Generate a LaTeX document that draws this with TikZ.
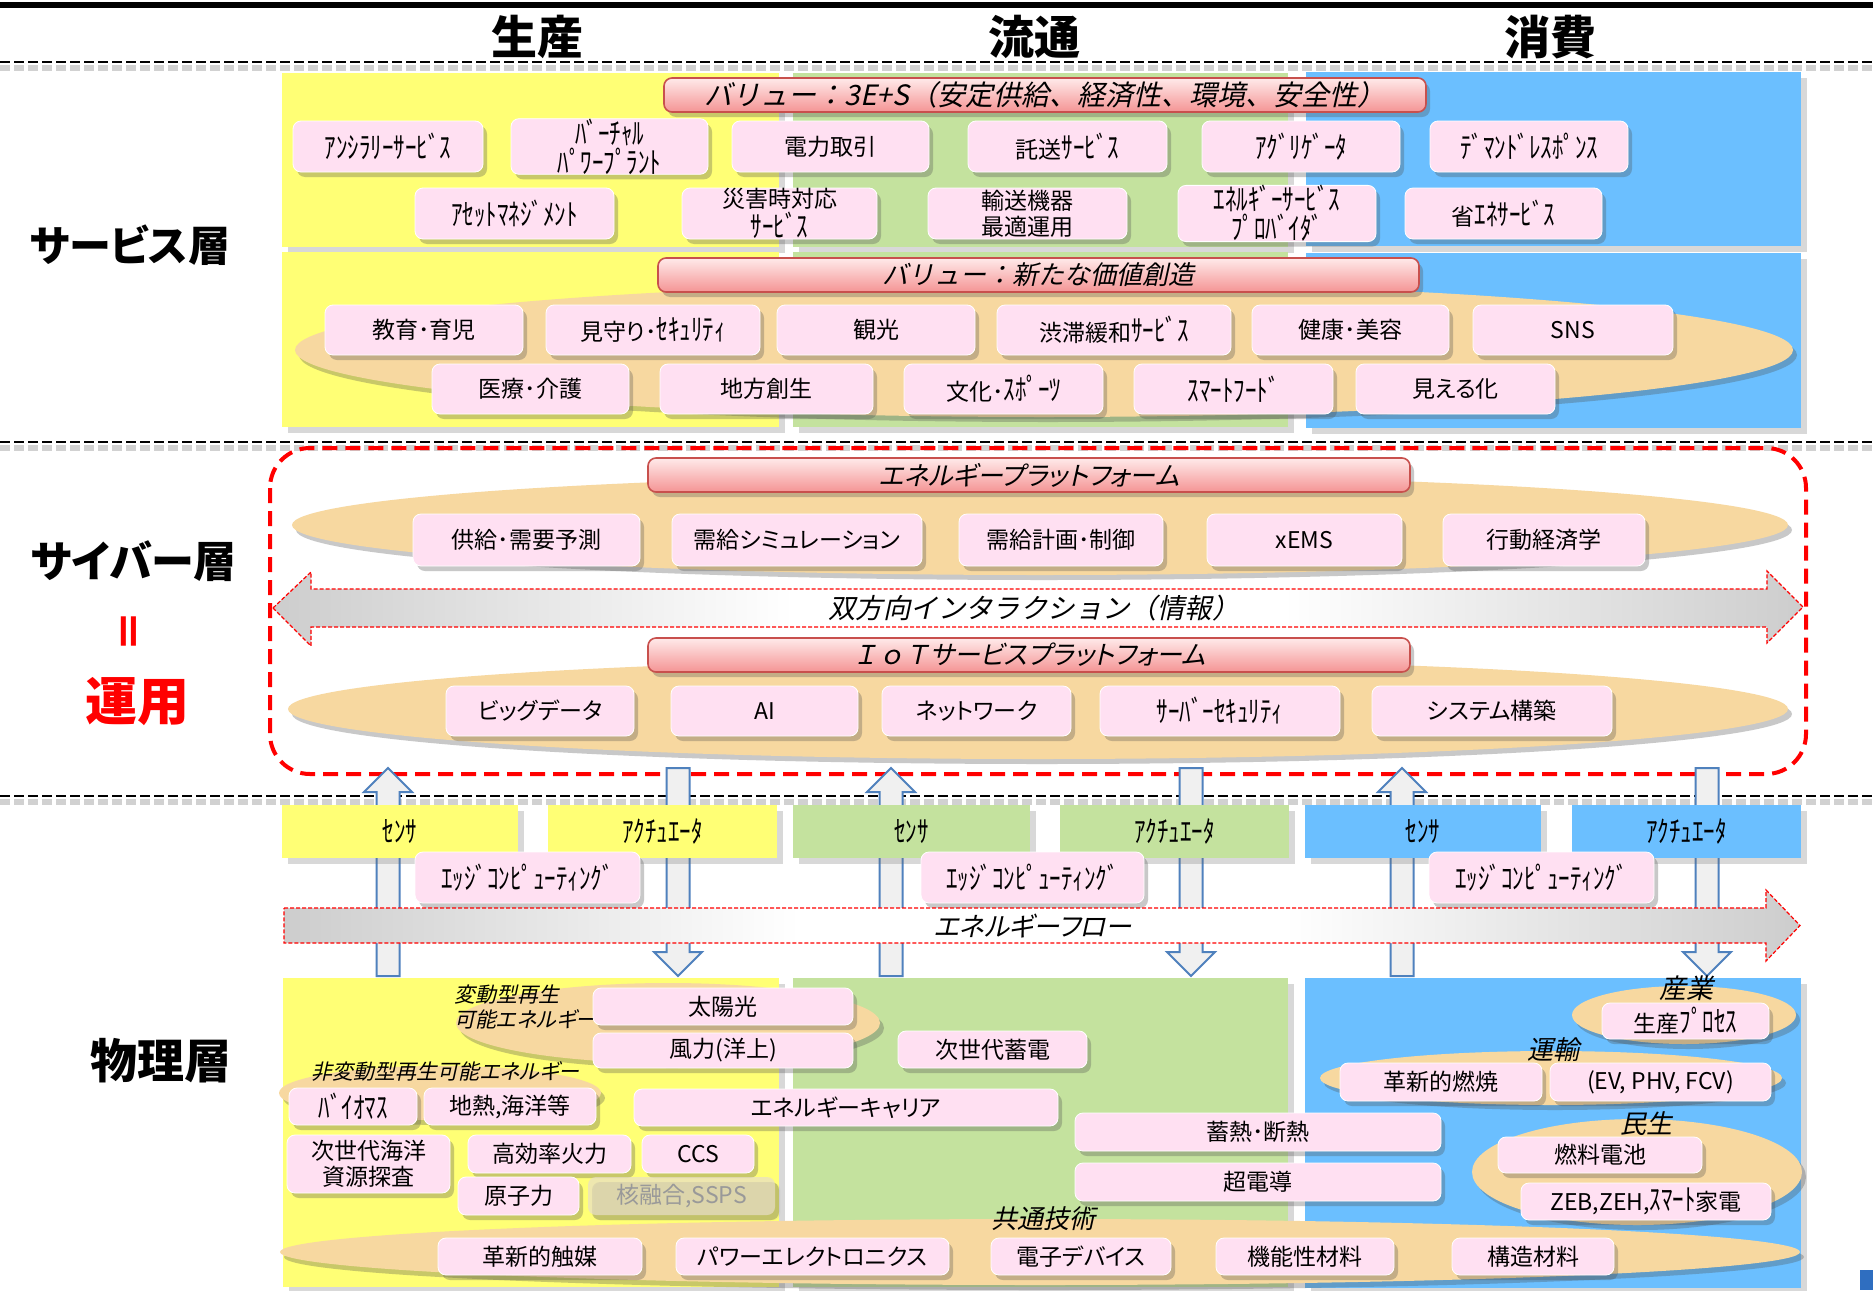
\documentclass[tikz,border=0pt]{standalone}
\usepackage{fontspec}
\usepackage{graphicx}
\setmainfont[RawFeature=+palt]{Noto Sans CJK JP}
\newfontfamily\jpit[FakeSlant=0.22,RawFeature=+palt]{Noto Sans CJK JP}
\newfontfamily\jpitw[FakeSlant=0.22]{Noto Sans CJK JP}
\usetikzlibrary{shadows}
\definecolor{ybg}{RGB}{255,255,117}
\definecolor{gbg}{RGB}{196,226,158}
\definecolor{bbg}{RGB}{107,191,255}
\definecolor{tanc}{RGB}{247,216,160}
\definecolor{pk}{RGB}{255,224,242}
\definecolor{fadebox}{RGB}{232,222,200}
\definecolor{barTop}{RGB}{255,234,234}
\definecolor{barBot}{RGB}{244,148,148}
\definecolor{barLine}{RGB}{200,80,77}
\definecolor{arrowgray}{RGB}{205,205,205}
\definecolor{arrowblue}{RGB}{79,129,189}
\definecolor{arrowfill}{RGB}{240,240,240}
\definecolor{cornerblue}{RGB}{47,110,192}
\pgfdeclarehorizontalshading{flowshade}{100bp}{color(0bp)=(arrowgray); color(25bp)=(arrowgray); color(42bp)=(white); color(58bp)=(white); color(75bp)=(arrowgray); color(100bp)=(arrowgray)}
\newcommand\nb[7][]{\node[#1,minimum width={(#5-#3)*0.5pt},minimum height={(#6-#4)*0.5pt}] (#2) at ({(#3+#5)/2},{(#4+#6)/2}) {#7};}
\newcommand\hk[1]{\scalebox{1}[1.3]{#1}}
\newcommand\uparr[1]{\draw[varrow] (#1-11.5,976) -- (#1-11.5,792) -- (#1-24,792) -- (#1,768) -- (#1+24,792) -- (#1+11.5,792) -- (#1+11.5,976) -- cycle;}
\newcommand\downarr[1]{\draw[varrow] (#1-11.5,768) -- (#1-11.5,952) -- (#1-24,952) -- (#1,976) -- (#1+24,952) -- (#1+11.5,952) -- (#1+11.5,768) -- cycle;}
\begin{document}
\begin{tikzpicture}[x=0.5pt,y=-0.5pt,
  sh/.style={drop shadow={shadow xshift=2pt,shadow yshift=-2.5pt,opacity=0.3,fill=black!70}},
  bgsh/.style={drop shadow={shadow xshift=3pt,shadow yshift=-3pt,opacity=0.25,fill=black!60}},
  pbox/.style={rectangle, rounded corners=4pt, fill=pk, draw=white, line width=0.4pt, inner sep=0pt, align=center, font=\fontsize{11.5}{13}\selectfont, sh},
  vbar/.style={rectangle, rounded corners=4pt, draw=barLine, line width=0.8pt, top color=barTop, bottom color=barBot, inner sep=0pt, font=\jpit\fontsize{13}{14}\selectfont, sh},
  sbox/.style={rectangle, inner sep=0pt, font=\fontsize{11.5}{12.5}\selectfont, bgsh},
  varrow/.style={fill=arrowfill, draw=arrowblue, line width=1pt, line join=miter},
  flow/.style={shading=flowshade, draw=red, line width=0.6pt, dash pattern=on 2pt off 1pt},
  lab/.style={font=\jpit\fontsize{13}{14}\selectfont, inner sep=0pt},
  layer/.style={font=\fontsize{21}{24}\selectfont\bfseries, inner sep=0pt},
  head/.style={font=\fontsize{23}{26}\selectfont\bfseries, inner sep=0pt},
  sect/.style={black, line width=1.3pt, dash pattern=on 5pt off 2pt},
  sectsh/.style={black!18, line width=3pt, dash pattern=on 5pt off 2pt}
]
\useasboundingbox (0,0) rectangle (1873,1290);
\fill[white] (0,0) rectangle (1873,1290);

% top line, headers, section lines
\fill[black] (0,2) rectangle (1873,8);
\node[head] (h1) at (537,37) {生産};
\node[head] (h2) at (1034,37) {流通};
\node[head] (h3) at (1550,37) {消費};
\foreach \yy in {62,442,796} {
  \draw[sectsh] (0,\yy+6) -- (1873,\yy+6);
  \draw[sect] (0,\yy) -- (1873,\yy);
}

% ===== service layer =====
\path[fill=ybg, bgsh] (282,73) rectangle (779,247);
\path[fill=gbg, bgsh] (793,73) rectangle (1288,247);
\path[fill=bbg, bgsh] (1306,72) rectangle (1801,246);
\path[fill=ybg, bgsh] (282,252) rectangle (779,427);
\path[fill=gbg, bgsh] (793,252) rectangle (1288,427);
\path[fill=bbg, bgsh] (1306,253) rectangle (1801,428);
\path[fill=tanc, sh] (1044,350) ellipse [x radius=749, y radius=67];

\nb[vbar, font=\jpitw\fontsize{14}{15}\selectfont]{v1}{664}{78}{1426}{112}{バリュー：3E+S（安定供給、経済性、環境、安全性）}
\nb[pbox]{s1}{293}{121}{483}{172}{\hk{ｱﾝｼﾗﾘｰｻｰﾋﾞｽ}}
\nb[pbox]{s2}{511}{121}{708}{172}{\hk{ﾊﾞｰﾁｬﾙ}\\\hk{ﾊﾟﾜｰﾌﾟﾗﾝﾄ}}
\nb[pbox]{s3}{732}{121}{929}{172}{電力取引}
\nb[pbox]{s4}{968}{121}{1167}{172}{託送\hk{ｻｰﾋﾞｽ}}
\nb[pbox]{s5}{1202}{121}{1400}{172}{\hk{ｱｸﾞﾘｹﾞｰﾀ}}
\nb[pbox]{s6}{1430}{121}{1628}{172}{\hk{ﾃﾞﾏﾝﾄﾞﾚｽﾎﾟﾝｽ}}
\nb[pbox]{s7}{415}{188}{614}{239}{\hk{ｱｾｯﾄﾏﾈｼﾞﾒﾝﾄ}}
\nb[pbox]{s8}{682}{188}{877}{239}{災害時対応\\\hk{ｻｰﾋﾞｽ}}
\nb[pbox]{s9}{928}{188}{1127}{239}{輸送機器\\最適運用}
\nb[pbox]{s10}{1178}{188}{1376}{239}{\hk{ｴﾈﾙｷﾞｰｻｰﾋﾞｽ}\\\hk{ﾌﾟﾛﾊﾞｲﾀﾞ}}
\nb[pbox]{s11}{1405}{188}{1602}{239}{省\hk{ｴﾈｻｰﾋﾞｽ}}

\nb[vbar, font=\jpitw\fontsize{13}{14}\selectfont]{v2}{658}{258}{1419}{292}{バリュー：新たな価値創造}
\nb[pbox]{t1}{325}{305}{523}{355}{教育･育児}
\nb[pbox]{t2}{546}{305}{760}{355}{見守り･\hk{ｾｷｭﾘﾃｨ}}
\nb[pbox]{t3}{777}{305}{975}{355}{観光}
\nb[pbox]{t4}{997}{305}{1231}{355}{渋滞緩和\hk{ｻｰﾋﾞｽ}}
\nb[pbox]{t5}{1252}{305}{1449}{355}{健康･美容}
\nb[pbox]{t6}{1473}{305}{1673}{355}{SNS}
\nb[pbox]{t7}{432}{364}{629}{414}{医療･介護}
\nb[pbox]{t8}{660}{364}{873}{414}{地方創生}
\nb[pbox]{t9}{904}{364}{1103}{414}{文化･\hk{ｽﾎﾟｰﾂ}}
\nb[pbox]{t10}{1134}{364}{1333}{414}{\hk{ｽﾏｰﾄﾌｰﾄﾞ}}
\nb[pbox]{t11}{1356}{364}{1555}{414}{見える化}

% ===== cyber layer =====
\path[fill=tanc, sh] (1040,525) ellipse [x radius=748, y radius=50];
\path[fill=tanc, sh] (1038,709) ellipse [x radius=750, y radius=50];
\nb[vbar]{ep}{648}{458}{1410}{492}{エネルギープラットフォーム}
\nb[pbox]{c1}{413}{514}{640}{566}{供給･需要予測}
\nb[pbox]{c2}{672}{514}{922}{566}{需給シミュレーション}
\nb[pbox]{c3}{959}{514}{1163}{566}{需給計画･制御}
\nb[pbox]{c4}{1207}{514}{1402}{566}{xEMS}
\nb[pbox]{c5}{1443}{514}{1645}{566}{行動経済学}

\draw[flow] (273,608) -- (311,572) -- (311,589) -- (1767,589) -- (1767,571) -- (1803,607) -- (1767,643) -- (1767,627) -- (311,627) -- (311,646) -- cycle;
\node[lab, font=\jpitw\fontsize{13.7}{15}\selectfont] (bi) at (1034,608) {双方向インタラクション（情報）};

\nb[vbar]{iot}{648}{638}{1410}{672}{{\jpitw ＩｏＴ}サービスプラットフォーム}
\nb[pbox]{d1}{446}{686}{634}{736}{ビッグデータ}
\nb[pbox]{d2}{671}{686}{858}{736}{AI}
\nb[pbox]{d3}{882}{686}{1071}{736}{ネットワーク}
\nb[pbox]{d4}{1100}{686}{1340}{736}{\hk{ｻｰﾊﾞｰｾｷｭﾘﾃｨ}}
\nb[pbox]{d5}{1372}{686}{1612}{736}{システム構築}

\draw[red, line width=2pt, dash pattern=on 7.5pt off 4pt, rounded corners=20pt] (270,448) rectangle (1806,774);

% ===== vertical arrows =====
\uparr{388}
\uparr{891}
\uparr{1402}
\downarr{678}
\downarr{1191}
\downarr{1707}

% sensors / actuators
\nb[sbox, fill=ybg]{ys}{282}{805}{518}{858}{\hk{ｾﾝｻ}}
\nb[sbox, fill=ybg]{ya}{548}{805}{777}{858}{\hk{ｱｸﾁｭｴｰﾀ}}
\nb[sbox, fill=gbg]{gs}{793}{805}{1030}{858}{\hk{ｾﾝｻ}}
\nb[sbox, fill=gbg]{ga}{1060}{805}{1289}{858}{\hk{ｱｸﾁｭｴｰﾀ}}
\nb[sbox, fill=bbg]{bs}{1305}{805}{1541}{858}{\hk{ｾﾝｻ}}
\nb[sbox, fill=bbg]{ba}{1572}{805}{1801}{858}{\hk{ｱｸﾁｭｴｰﾀ}}
\nb[pbox]{e1}{415}{852}{640}{903}{\hk{ｴｯｼﾞｺﾝﾋﾟｭｰﾃｨﾝｸﾞ}}
\nb[pbox]{e2}{921}{852}{1144}{903}{\hk{ｴｯｼﾞｺﾝﾋﾟｭｰﾃｨﾝｸﾞ}}
\nb[pbox]{e3}{1429}{852}{1654}{903}{\hk{ｴｯｼﾞｺﾝﾋﾟｭｰﾃｨﾝｸﾞ}}

% energy flow
\draw[flow] (284,908) -- (1766,908) -- (1766,890) -- (1800,925.5) -- (1766,961) -- (1766,943) -- (284,943) -- cycle;
\node[lab, font=\jpit\fontsize{13.2}{15}\selectfont] (ef) at (1033,926) {エネルギーフロー};

% ===== physical layer =====
\path[fill=ybg, bgsh] (283,978) rectangle (779,1287);
\path[fill=gbg, bgsh] (793,978) rectangle (1288,1287);
\path[fill=bbg, bgsh] (1305,978) rectangle (1801,1288);

\path[fill=tanc, sh] (668,1023) ellipse [x radius=212, y radius=40];
\path[fill=tanc, sh] (440,1093) ellipse [x radius=161, y radius=27];
\path[fill=tanc, sh] (1040,1252) ellipse [x radius=760, y radius=33];
\path[fill=tanc, sh] (1684,1015) ellipse [x radius=112, y radius=29];
\path[fill=tanc, sh] (1551,1078) ellipse [x radius=231, y radius=27];
\path[fill=tanc, sh] (1637,1172) ellipse [x radius=165, y radius=53];

\node[lab, anchor=west, align=left, font=\jpit\fontsize{10.5}{12.5}\selectfont] (l1) at (454,1007) {変動型再生\\可能エネルギー};
\node[lab, anchor=west, font=\jpit\fontsize{10.5}{12}\selectfont] (l2) at (311,1071) {非変動型再生可能エネルギー};
\node[lab, font=\jpit\fontsize{13.5}{14}\selectfont] (l3) at (1686,988) {産業};
\node[lab] (l4) at (1553,1050) {運輸};
\node[lab] (l5) at (1646,1124) {民生};
\node[lab] (l6) at (1043,1219) {共通技術};

\nb[pbox]{p1}{593}{988}{853}{1025}{太陽光}
\nb[pbox]{p2}{593}{1033}{853}{1068}{風力(洋上)}
\nb[pbox]{p3}{898}{1031}{1087}{1068}{次世代蓄電}
\nb[pbox]{p4}{289}{1088}{417}{1125}{\hk{ﾊﾞｲｵﾏｽ}}
\nb[pbox]{p5}{424}{1088}{596}{1125}{地熱,海洋等}
\nb[pbox]{p6}{634}{1089}{1058}{1126}{エネルギーキャリア}
\nb[pbox]{p7}{287}{1135}{450}{1193}{次世代海洋\\資源探査}
\nb[pbox]{p8}{468}{1135}{631}{1173}{高効率火力}
\nb[pbox]{p9}{642}{1135}{754}{1173}{CCS}
\nb[pbox]{p10}{458}{1177}{579}{1215}{原子力}
\nb[pbox, fill=fadebox, fill opacity=0.7, draw=none, text opacity=1, text=black!40, drop shadow={opacity=0.08}]{p11}{588}{1177}{775}{1215}{核融合,SSPS}
\nb[pbox]{p12}{1075}{1113}{1441}{1151}{蓄熱･断熱}
\nb[pbox]{p13}{1075}{1163}{1441}{1201}{超電導}
\nb[pbox]{p14}{438}{1238}{642}{1275}{革新的触媒}
\nb[pbox]{p15}{676}{1238}{949}{1275}{パワーエレクトロニクス}
\nb[pbox]{p16}{991}{1238}{1171}{1275}{電子デバイス}
\nb[pbox]{p17}{1216}{1238}{1394}{1275}{機能性材料}
\nb[pbox]{p18}{1452}{1238}{1614}{1275}{構造材料}
\nb[pbox]{p19}{1602}{1003}{1769}{1039}{生産\hk{ﾌﾟﾛｾｽ}}
\nb[pbox]{p20}{1340}{1063}{1542}{1101}{革新的燃焼}
\nb[pbox]{p21}{1550}{1063}{1771}{1101}{(EV, PHV, FCV)}
\nb[pbox]{p22}{1498}{1137}{1702}{1173}{燃料電池}
\nb[pbox]{p23}{1521}{1183}{1771}{1220}{ZEB,ZEH,\hk{ｽﾏｰﾄ}家電}

% corner mark
\fill[cornerblue] (1860,1270) rectangle (1873,1290);

% ===== layer labels =====
\node[layer] (L1) at (130,245) {サービス層};
\node[layer, font=\fontsize{21.5}{24}\selectfont\bfseries] (L2) at (134,561) {サイバー層};
\node[layer, text=red] (L3) at (133,631) {\rotatebox{90}{＝}};
\node[layer, text=red, font=\fontsize{26}{28}\selectfont\bfseries] (L4) at (137,702) {運用};
\node[layer, font=\fontsize{23.5}{26}\selectfont\bfseries] (L5) at (161,1061) {物理層};
\end{tikzpicture}
\end{document}
